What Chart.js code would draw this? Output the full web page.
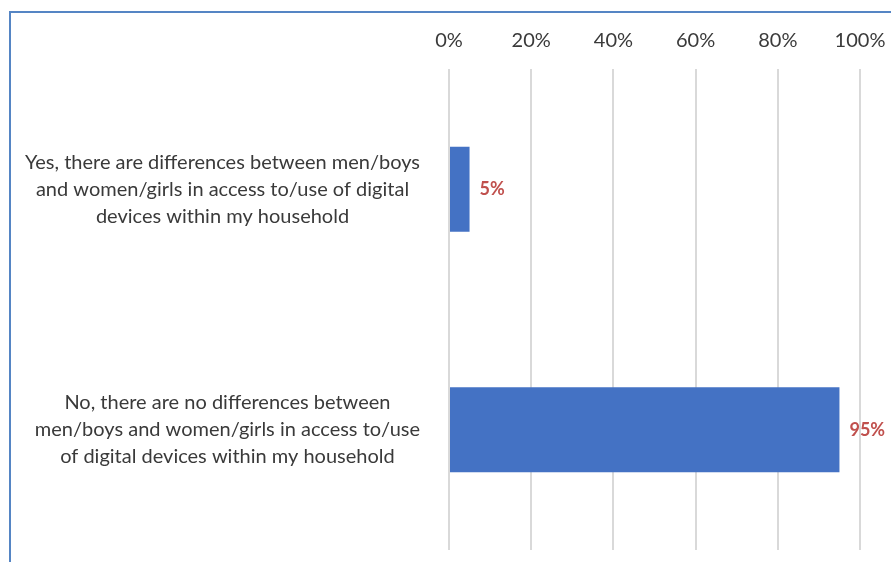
<!DOCTYPE html>
<html>
<head>
<meta charset="utf-8">
<script src="https://cdn.jsdelivr.net/npm/chart.js@4"></script>
<style>
  html, body { margin: 0; padding: 0; background: #ffffff; }
  #wrap { position: relative; width: 891px; height: 562px; }
</style>
</head>
<body>
<div id="wrap"><canvas id="chart" width="891" height="562"></canvas></div>
<script>
// Survey answers (each answer is drawn as a centred multi-line label)
const categories = [
  ["Yes, there are differences between men/boys", "and women/girls in access to/use of digital", "devices within my household"],
  ["No, there are no differences between", "men/boys and women/girls in access to/use", "of digital devices within my household"]
];
// Share of respondents, in percent
const shares = [5, 95];
// Axis ticks, in percent
const tickValues = [0, 20, 40, 60, 80, 100];

const FONT = "Lato, 'Liberation Sans', sans-serif";
const TEXT_COLOR = '#3a3a3a';

// Frame lines along the top and left edges of the panel
const framePlugin = {
  id: 'frame',
  beforeDraw(chart) {
    const ctx = chart.ctx;
    ctx.save();
    ctx.strokeStyle = '#5585c4';
    ctx.lineWidth = 2;
    ctx.beginPath();
    ctx.moveTo(10, chart.height);
    ctx.lineTo(10, 12);
    ctx.lineTo(chart.width, 12);
    ctx.stroke();
    ctx.restore();
  }
};

// Category labels: each block is right-aligned to the plot, lines centred within it
const categoryLabelPlugin = {
  id: 'categoryLabels',
  afterDraw(chart) {
    const ctx = chart.ctx;
    const yScale = chart.scales.y;
    const right = chart.chartArea.left - 29;
    const lineH = 27;
    ctx.save();
    ctx.font = '20px ' + FONT;
    ctx.fillStyle = TEXT_COLOR;
    ctx.textAlign = 'center';
    ctx.textBaseline = 'middle';
    categories.forEach((lines, i) => {
      const cy = yScale.getPixelForValue(i);
      const w = Math.max(...lines.map(l => ctx.measureText(l).width));
      const cx = right - w / 2;
      lines.forEach((l, j) => {
        ctx.fillText(l, cx, cy + (j - (lines.length - 1) / 2) * lineH);
      });
    });
    ctx.restore();
  }
};

// Value labels just past the end of each bar
const valueLabelPlugin = {
  id: 'valueLabels',
  afterDatasetsDraw(chart) {
    const ctx = chart.ctx;
    const meta = chart.getDatasetMeta(0);
    ctx.save();
    ctx.font = 'bold 18px ' + FONT;
    ctx.fillStyle = '#c0504d';
    ctx.textAlign = 'left';
    ctx.textBaseline = 'middle';
    meta.data.forEach((bar, i) => {
      ctx.fillText(shares[i] + '%', bar.x + 10, bar.y);
    });
    ctx.restore();
  }
};

new Chart(document.getElementById('chart'), {
  type: 'bar',
  data: {
    labels: categories.map(c => c.join(' ')),
    datasets: [{
      data: shares,
      backgroundColor: '#4472c4',
      borderWidth: 0,
      categoryPercentage: 1,
      barPercentage: 0.354
    }]
  },
  options: {
    indexAxis: 'y',
    responsive: false,
    animation: false,
    events: [],
    layout: { padding: { left: 449, right: 31, top: 13, bottom: 12 } },
    plugins: { legend: { display: false }, tooltip: { enabled: false } },
    scales: {
      x: {
        position: 'top',
        min: 0,
        max: 100,
        afterBuildTicks(scale) { scale.ticks = tickValues.map(v => ({ value: v })); },
        // Let the end tick labels overhang the plot edges
        afterFit(scale) { scale.paddingLeft = 0; scale.paddingRight = 0; },
        ticks: {
          padding: 16,
          color: TEXT_COLOR,
          font: { family: FONT, size: 20 },
          callback: v => v + '%'
        },
        grid: { color: '#d9d9d9', lineWidth: 2, drawTicks: false },
        border: { display: false }
      },
      y: { display: false }
    }
  },
  plugins: [framePlugin, categoryLabelPlugin, valueLabelPlugin]
});
</script>
</body>
</html>
